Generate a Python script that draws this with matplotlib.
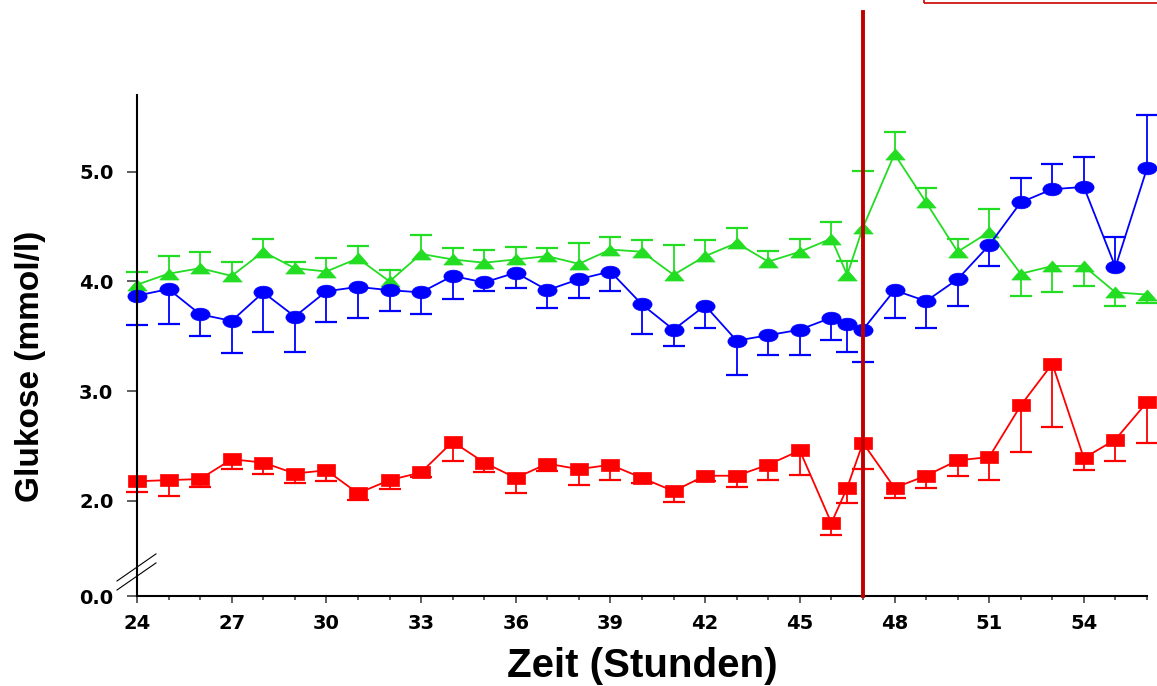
import numpy as np
import matplotlib
matplotlib.use("Agg")
from matplotlib import pyplot as plt
from matplotlib.path import Path
from matplotlib.patches import Rectangle
from matplotlib.transforms import Affine2D
from matplotlib.ticker import MultipleLocator, FormatStrFormatter

# Zeitpunkte (Stunden)
hours = [24, 25, 26, 27, 28, 29, 30, 31, 32, 33, 34, 35, 36, 37, 38, 39, 40,
         41, 42, 43, 44, 45, 46, 46.5, 47, 48, 49, 50, 51, 52, 53, 54, 55, 56]

# Glukose Mittelwerte (mmol/l)
blue_mean = [3.87, 3.93, 3.70, 3.64, 3.90, 3.68, 3.91, 3.95, 3.92, 3.90, 4.05, 3.99,
             4.08, 3.92, 4.02, 4.09, 3.79, 3.56, 3.78, 3.46, 3.51, 3.56, 3.67, 3.61,
             3.56, 3.92, 3.82, 4.02, 4.33, 4.72, 4.84, 4.86, 4.13, 5.03]
green_mean = [3.97, 4.07, 4.12, 4.05, 4.27, 4.12, 4.09, 4.21, 4.00, 4.25, 4.20, 4.17,
              4.20, 4.23, 4.16, 4.29, 4.27, 4.06, 4.23, 4.35, 4.18, 4.27, 4.39, 4.06,
              4.49, 5.16, 4.72, 4.27, 4.45, 4.07, 4.14, 4.14, 3.90, 3.88]
red_mean = [2.18, 2.19, 2.20, 2.38, 2.35, 2.25, 2.28, 2.07, 2.19, 2.26, 2.54, 2.35,
            2.21, 2.34, 2.29, 2.33, 2.21, 2.09, 2.23, 2.23, 2.33, 2.46, 1.80, 2.12,
            2.53, 2.12, 2.23, 2.37, 2.40, 2.87, 3.25, 2.39, 2.56, 2.90]

# SEM
blue_sem = [0.27, 0.32, 0.20, 0.29, 0.36, 0.32, 0.28, 0.28, 0.19, 0.20, 0.21, 0.08,
            0.14, 0.16, 0.17, 0.18, 0.27, 0.15, 0.20, 0.31, 0.18, 0.23, 0.20, 0.25,
            0.29, 0.25, 0.24, 0.24, 0.19, 0.22, 0.23, 0.27, 0.27, 0.49]
green_sem = [0.12, 0.16, 0.15, 0.13, 0.12, 0.06, 0.12, 0.11, 0.10, 0.17, 0.10, 0.12,
             0.11, 0.07, 0.19, 0.11, 0.11, 0.27, 0.15, 0.14, 0.10, 0.12, 0.15, 0.13,
             0.52, 0.20, 0.13, 0.12, 0.21, 0.20, 0.24, 0.18, 0.12, 0.08]
red_sem = [0.10, 0.14, 0.07, 0.09, 0.10, 0.09, 0.10, 0.06, 0.08, 0.04, 0.18, 0.09,
           0.14, 0.07, 0.14, 0.14, 0.05, 0.10, 0.05, 0.10, 0.14, 0.22, 0.11, 0.14,
           0.24, 0.09, 0.11, 0.14, 0.21, 0.42, 0.58, 0.11, 0.20, 0.37]

marker_hour = 47
y_ticks = [0, 2, 3, 4, 5]

x = np.array(hours)
flip = x >= 52  # ab hier liegen die Kurven umgekehrt -> Fehlerbalken andere Richtung


# Achsenbruch unter 1.5
def fwd(y):
    y = np.asarray(y, dtype=float)
    return np.where(y >= 1.5, y, 1.5 - (1.5 - y) * 0.2435)


def inv(y):
    y = np.asarray(y, dtype=float)
    return np.where(y >= 1.5, y, 1.5 - (1.5 - y) / 0.2435)


def plot_series(ax, y, sem, up, color, marker, ms):
    y = np.array(y)
    sem = np.array(sem)
    tip = np.where(up, y + sem, y - sem)
    # einseitige Fehlerbalken (nur Richtung weg von der anderen Kurve)
    ax.vlines(x, y, tip, color=color, lw=1.3, clip_on=False)
    ax.plot(x, tip, ls="none", marker="_", ms=16, mew=1.6, color=color, clip_on=False)
    ax.plot(x, y, color=color, lw=1.3, marker=marker, ms=ms, mew=0.5, clip_on=False)


# gestauchte Marker (Bild ist horizontal gestreckt)
oval = Path.unit_circle().transformed(Affine2D().scale(1.0, 0.66))
box = Path.unit_rectangle().transformed(Affine2D().translate(-0.5, -0.5).scale(1.0, 0.65))
tri = Path([(0, 0.57), (-1, -0.57), (1, -0.57), (0, 0.57)],
           [Path.MOVETO, Path.LINETO, Path.LINETO, Path.CLOSEPOLY])

fig = plt.figure(figsize=(11.57, 6.86), dpi=100)
ax = fig.add_axes([137 / 1157, 1 - 596 / 686, 1010 / 1157, 501 / 686])
ax.set_yscale("function", functions=(fwd, inv))

plot_series(ax, red_mean, red_sem, np.zeros(len(x), bool), "#ff0000", box, 12.5)
plot_series(ax, green_mean, green_sem, ~flip, "#22dd22", tri, 13.9)
plot_series(ax, blue_mean, blue_sem, flip, "#0000ff", oval, 13.8)

ax.axvline(marker_hour, ymin=0, ymax=(596 - 12) / 501, color="#c00000", lw=2.8,
           clip_on=False, zorder=10)

ax.set_xlim(24, 56)
ax.set_ylim(0, inv(2 + (501 - 95) / 109.8))
ax.set_yticks(y_ticks)
ax.yaxis.set_major_formatter(FormatStrFormatter("%.1f"))
ax.yaxis.set_minor_locator(plt.NullLocator())
ax.xaxis.set_major_locator(MultipleLocator(3))
ax.xaxis.set_minor_locator(MultipleLocator(1))

for s in ["top", "right"]:
    ax.spines[s].set_visible(False)
for s in ["left", "bottom"]:
    ax.spines[s].set_linewidth(1.5)
    ax.spines[s].set_color("black")

ax.tick_params(axis="x", which="major", length=5, width=1.1, pad=8, color="#333333")
ax.tick_params(axis="x", which="minor", length=3, width=1.1, color="#333333")
ax.tick_params(axis="y", length=7, width=1.1, pad=10, color="#333333")
for lbl in ax.get_xticklabels() + ax.get_yticklabels():
    lbl.set_fontfamily("DejaVu Sans")
    lbl.set_fontweight("bold")
    lbl.set_fontsize(14)

ax.set_xlabel("Zeit (Stunden)", fontfamily="Liberation Sans", fontweight="bold",
              fontsize=29, labelpad=10)
ax.set_ylabel("Glukose (mmol/l)", fontfamily="Liberation Sans", fontweight="bold",
              fontsize=24)
ax.yaxis.set_label_coords(-0.09, 0.458)

# Bruchzeichen auf der y-Achse
for y0, y1 in [(0.030, 0.084), (0.012, 0.066)]:
    ax.plot([-0.0198, 0.0188], [y0, y1], transform=ax.transAxes,
            color="black", lw=0.8, clip_on=False)

fig.add_artist(Rectangle((924 / 1157, 1 - 3 / 686), 0.3, 0.2, transform=fig.transFigure,
                         fill=False, ec="#cc0000", lw=1.2))

plt.savefig("out.png", dpi=100)
